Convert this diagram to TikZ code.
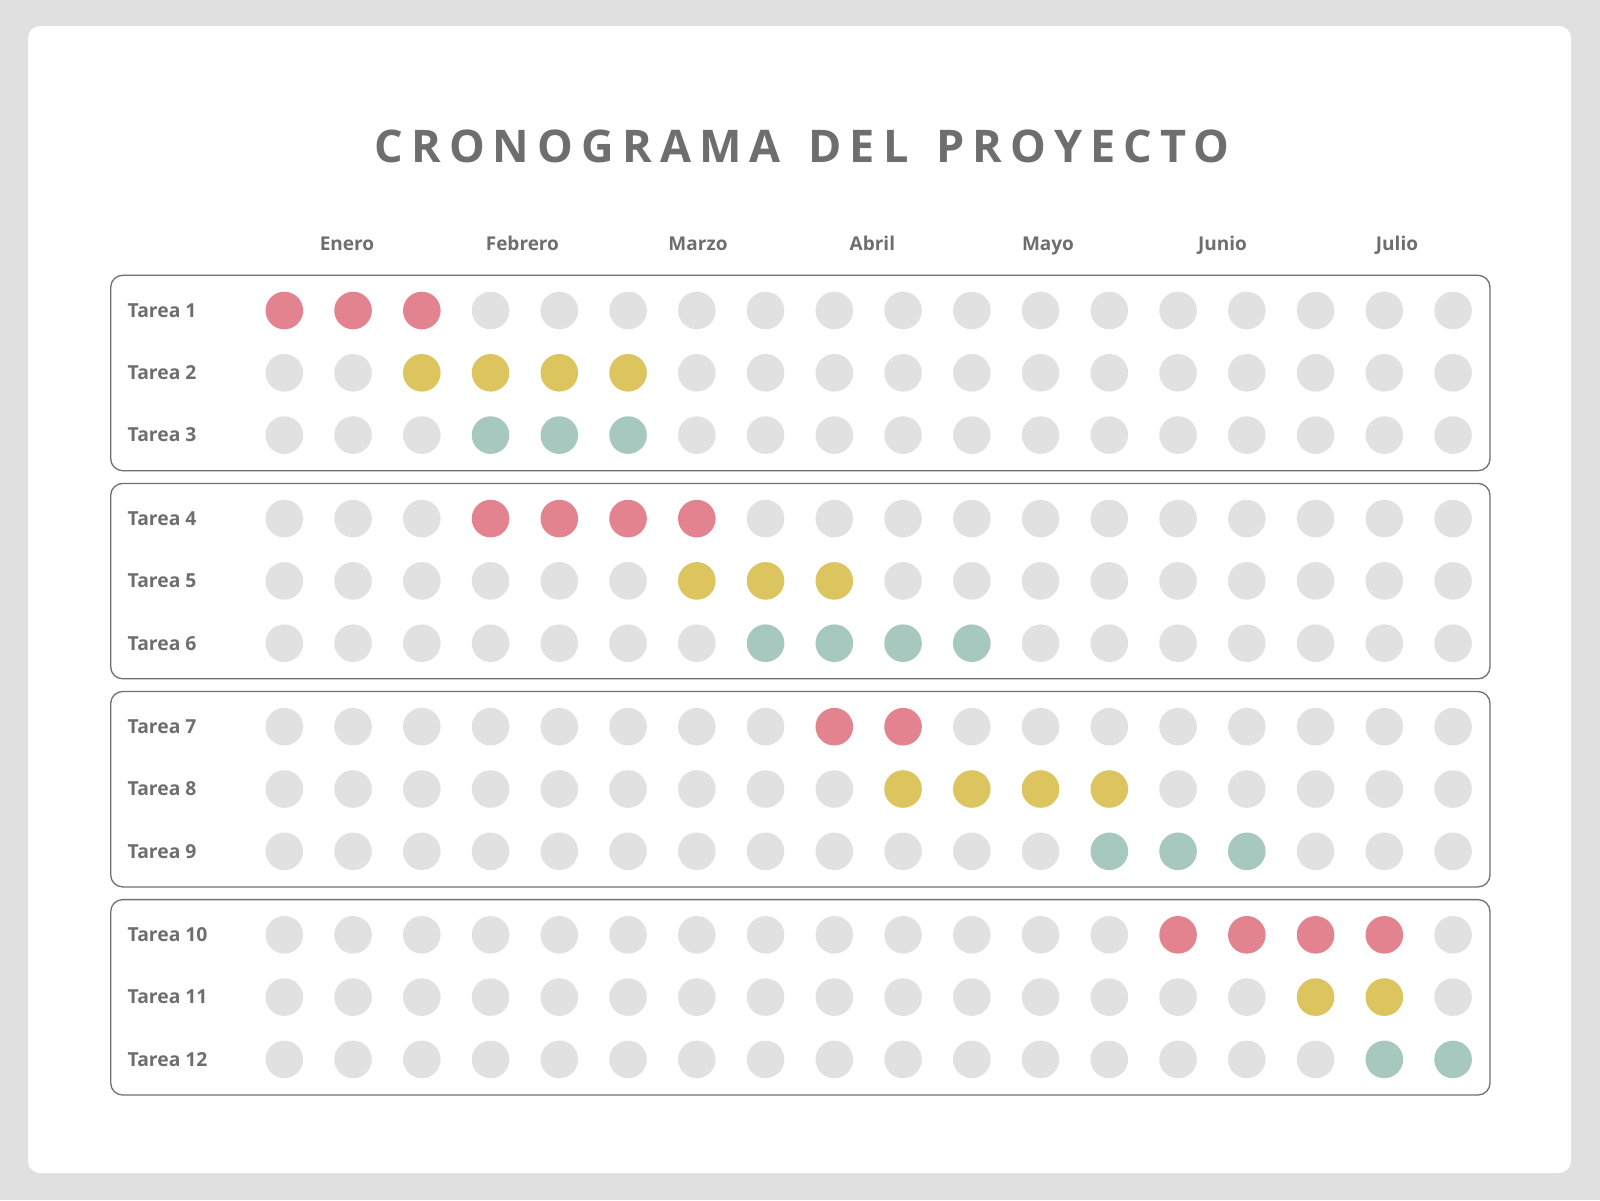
\documentclass[tikz,border=0pt]{standalone}
\usepackage{fontspec}
\setmainfont{Open Sans}
\newfontfamily\titlefont{Open Sans}[LetterSpace=18]
\definecolor{bgc}{HTML}{E0E0E0}
\definecolor{txt}{HTML}{6E6E6E}
\definecolor{boxc}{HTML}{707070}
\definecolor{cgray}{HTML}{E1E1E1}
\definecolor{cpink}{HTML}{E2838F}
\definecolor{cyel}{HTML}{DCC45E}
\definecolor{cteal}{HTML}{A7C8BE}
\tikzset{
  titlestyle/.style={text=txt, font=\titlefont\bfseries\fontsize{45}{50}\selectfont, inner sep=0},
  monthstyle/.style={text=txt, font=\bfseries\fontsize{19}{22}\selectfont, inner sep=0, anchor=base},
  tareastyle/.style={text=txt, font=\bfseries\fontsize{19.3}{22}\selectfont, inner sep=0, anchor=base west},
  dotstyle/.style={circle, minimum size=37.6pt, inner sep=0, draw=none},
  grpstyle/.style={draw=boxc, line width=1.3pt, rounded corners=12pt, minimum width=1379.3pt, minimum height=195.4pt, inner sep=0}
}
\begin{document}
\begin{tikzpicture}[x=1pt,y=-1pt]
\fill[bgc] (0,0) rectangle (1600,1200);
\useasboundingbox (0,0) rectangle (1600,1200);
\fill[white, rounded corners=12pt] (28,26) rectangle (1571,1173);
\node[titlestyle] (title) at (802,146) {CRONOGRAMA\hspace{8pt} DEL\hspace{8pt} PROYECTO};
\foreach \n/\m/\x in {1/Enero/347, 2/Febrero/522.4, 3/Marzo/698, 4/Abril/872.4, 5/Mayo/1048, 6/Junio/1222.4, 7/Julio/1397}{
  \node[monthstyle] (m\n) at (\x,250) {\m};
}
\foreach \g in {0,1,2,3}{
  \pgfmathsetmacro\gy{373+208.1*\g}
  \node[grpstyle] (g\g) at (800.35,\gy) {};
}
\foreach \r/\s/\e/\c in {1/1/3/cpink, 2/3/6/cyel, 3/4/6/cteal, 4/4/7/cpink, 5/7/9/cyel, 6/8/11/cteal, 7/9/10/cpink, 8/10/13/cyel, 9/13/15/cteal, 10/14/17/cpink, 11/16/17/cyel, 12/17/18/cteal}{
  \pgfmathsetmacro\yy{310.5+208.1*int((\r-1)/3)+62.3*mod(\r-1,3)}
  \pgfmathsetmacro\by{\yy+6.8}
  \node[tareastyle] (t\r) at (127.5,\by) {Tarea \r};
  \foreach \k in {1,...,18}{
    \pgfmathsetmacro\xx{284.3+68.75*(\k-1)}
    \ifnum\k<\s \def\cc{cgray}\else\ifnum\k>\e \def\cc{cgray}\else\def\cc{\c}\fi\fi
    \node[dotstyle, fill=\cc] (d\r-\k) at (\xx,\yy) {};
  }
}
\end{tikzpicture}
\end{document}
